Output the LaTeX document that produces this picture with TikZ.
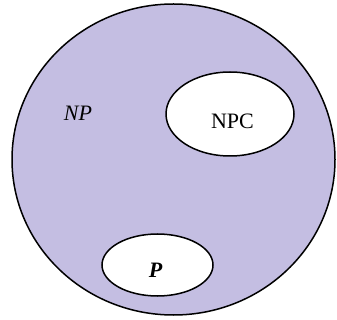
\documentclass[tikz,border=0pt]{standalone}
\usepackage{fontspec}
\setmainfont{Liberation Serif}
\usepackage{xcolor}
\usetikzlibrary{shapes.geometric}
\definecolor{npLavender}{RGB}{196,190,226}

\tikzset{
    setline/.style={draw=black, line width=1.5pt},
    subset/.style={setline, ellipse, fill=white, inner sep=0pt},
    setlabel/.style={font=\fontsize{22}{26}\selectfont, inner sep=0pt}
}

\begin{document}
\begin{tikzpicture}[x=1pt,y=-1pt]

    \useasboundingbox (0,0) rectangle (337,320);

    % outer set
    \node[setline, ellipse, fill=npLavender, minimum width=323pt, minimum height=311pt] (np) at (173.5,159.5) {};
    \node[setlabel] (nplabel) at (78,113) {\itshape NP};

    % complete problems
    \node[subset, minimum width=128pt, minimum height=84pt] (npc) at (230,114) {};
    \node[setlabel] (npclabel) at (232.5,121.5) {NPC};

    % polynomial class
    \node[subset, minimum width=111pt, minimum height=62pt] (p) at (157.5,265) {};
    \node[setlabel] (plabel) at (155.5,270.5) {\bfseries\itshape P};

\end{tikzpicture}
\end{document}
